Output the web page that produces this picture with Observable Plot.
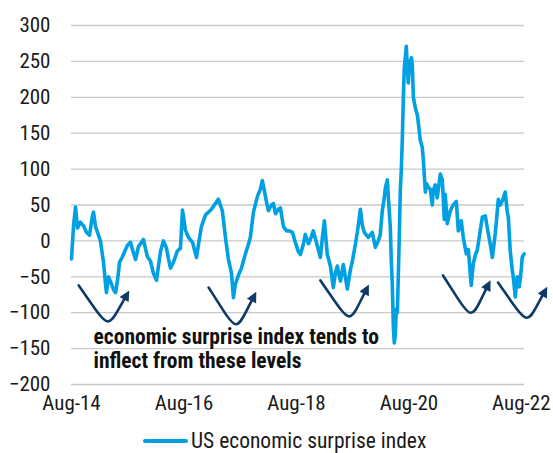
<!DOCTYPE html>
<html>
<head>
<meta charset="utf-8">
<script src="https://cdn.jsdelivr.net/npm/d3@7"></script>
<script src="https://cdn.jsdelivr.net/npm/@observablehq/plot@0.6"></script>
<style>
  html, body { margin: 0; padding: 0; background: #fff; }
  #wrap { position: relative; width: 553px; height: 453px; overflow: hidden;
          font-family: "Roboto Condensed", "Liberation Sans Narrow", "Arial Narrow", Roboto, sans-serif; color: #1a1a1a; }
  #legend { position: absolute; left: 143px; top: 429px; height: 23px; display: flex; align-items: center; font-size: 21.5px; line-height: 23px; white-space: nowrap; }
  #legend .sw { width: 45px; height: 4px; border-radius: 2px; background: #00a0e3; margin-right: 3px; }
</style>
</head>
<body>
<div id="wrap"><div id="chart"></div><div id="legend"><span class="sw"></span><span id="legendText"></span></div></div>
<script>
// ---- data ----
const seriesName = "US economic surprise index";
const dates = ["2014-08-01","2014-08-14","2014-08-27","2014-09-09","2014-09-28","2014-10-18","2014-11-06","2014-11-26","2014-12-15","2014-12-22",
"2015-01-04","2015-02-05","2015-02-25","2015-03-10","2015-03-16","2015-03-29","2015-04-18","2015-05-01","2015-05-14","2015-05-27","2015-06-09","2015-06-28","2015-07-18","2015-07-31","2015-08-19","2015-09-01","2015-09-21","2015-10-10","2015-10-30","2015-11-11","2015-11-24","2015-12-07","2015-12-27",
"2016-01-15","2016-02-04","2016-02-17","2016-03-01","2016-03-20","2016-04-09","2016-04-22","2016-05-05","2016-05-24","2016-06-19","2016-07-09","2016-07-22","2016-08-10","2016-08-30","2016-09-25","2016-10-21","2016-11-03","2016-11-22","2016-12-18",
"2017-01-07","2017-01-26","2017-02-21","2017-03-12","2017-03-25","2017-04-07","2017-04-27","2017-05-16","2017-06-05","2017-06-18","2017-07-01","2017-07-20","2017-08-09","2017-09-04","2017-09-23","2017-10-06","2017-10-26","2017-11-21","2017-12-10","2017-12-23",
"2018-01-05","2018-01-18","2018-01-31","2018-02-20","2018-03-05","2018-03-18","2018-04-06","2018-04-19","2018-05-09","2018-05-28","2018-06-16","2018-07-06","2018-07-25","2018-08-14","2018-08-27","2018-09-15","2018-09-28","2018-10-18","2018-10-31","2018-11-19","2018-12-15",
"2019-01-04","2019-01-17","2019-01-30","2019-02-12","2019-02-18","2019-03-10","2019-03-29","2019-04-11","2019-04-24","2019-05-14","2019-06-02","2019-06-15","2019-06-28","2019-07-18","2019-07-31","2019-08-19","2019-09-01","2019-09-21","2019-10-03","2019-10-16","2019-11-11","2019-12-07","2019-12-27",
"2020-01-15","2020-01-28","2020-02-10","2020-02-23","2020-03-01","2020-03-14","2020-03-20","2020-04-02","2020-04-09","2020-04-15","2020-04-22","2020-04-28","2020-05-05","2020-05-11","2020-05-18","2020-05-24","2020-05-31","2020-06-06","2020-06-13","2020-06-19","2020-06-26","2020-07-02","2020-07-15","2020-07-22","2020-07-28","2020-08-04","2020-08-17","2020-08-23","2020-08-30","2020-09-12","2020-09-25","2020-10-01","2020-10-14","2020-10-27","2020-11-03","2020-11-16","2020-11-22","2020-12-05","2020-12-18","2020-12-31",
"2021-01-06","2021-01-19","2021-02-01","2021-02-21","2021-03-06","2021-03-19","2021-03-25","2021-04-07","2021-04-27","2021-05-16","2021-06-05","2021-06-18","2021-07-07","2021-07-20","2021-08-09","2021-08-22","2021-09-10","2021-09-23","2021-10-06","2021-10-19","2021-11-08","2021-11-21","2021-12-10","2021-12-30",
"2022-01-12","2022-01-25","2022-02-13","2022-03-05","2022-03-18","2022-03-31","2022-04-19","2022-05-02","2022-05-09","2022-05-21","2022-06-03","2022-06-10","2022-06-23","2022-07-06","2022-07-19","2022-08-01","2022-08-07","2022-08-20"];
const values = [-25,20,47,18,26,21,12,8,35,40,
20,0,-30,-60,-72,-50,-60,-68,-72,-55,-30,-22,-12,-6,-2,-12,-26,-8,-2,2,-10,-22,-28,
-45,-55,-35,-15,0,-10,-25,-38,-30,-14,-10,43,15,5,-2,-23,-5,20,36,
40,44,52,58,50,42,5,-25,-45,-79,-60,-48,-38,-18,-5,5,40,62,72,84,
70,55,42,50,52,38,44,46,20,14,14,12,-2,-15,-19,-5,9,-4,2,14,-7,
-23,5,28,-5,-19,-35,-65,-45,-35,-56,-33,-50,-67,-40,-28,-5,12,44,22,12,5,12,-9,
0,9,42,60,74,85,62,20,-30,-60,-120,-142,-130,-95,-100,-50,10,70,100,140,200,240,271,240,220,245,255,245,200,185,175,165,140,130,112,68,80,75,72,50,
70,78,60,93,85,30,65,24,42,50,55,14,28,5,-18,-12,-62,-32,-20,-13,15,33,35,10,
-5,-23,10,58,50,56,68,40,33,-13,-40,-50,-78,-50,-64,-40,-23,-18];

const xDomain = ["2014-08-01", "2022-08-22"];
const xTickDates = ["2014-08-01","2016-08-01","2018-08-01","2020-08-01","2022-08-01"];
const xTickLabels = ["Aug-14","Aug-16","Aug-18","Aug-20","Aug-22"];
const yDomain = [-200, 300];
const yTicks = [-200,-150,-100,-50,0,50,100,150,200,250,300];

// "inflection" arrows: start, lowest point, end (date, value)
const arrowStartDates = ["2014-09-17","2017-01-08","2019-01-04","2021-03-10","2022-03-03"];
const arrowStartValues = [-62,-65,-55,-48,-58];
const arrowLowDates = ["2015-03-21","2017-07-01","2019-07-06","2021-09-04","2022-09-02"];
const arrowLowValues = [-112,-116,-105,-100,-107];
const arrowEndDates = ["2015-07-29","2017-11-01","2019-11-03","2022-01-01","2023-01-04"];
const arrowEndValues = [-74,-76,-66,-60,-69];

const noteLines = ["economic surprise index tends to", "inflect from these levels"];
const noteDate = "2014-12-22";
const noteValues = [-143, -177];

// ---- build ----
const parse = d3.utcParse("%Y-%m-%d");
const n = Math.min(dates.length, values.length);
const series = d3.range(n).map(i => ({date: parse(dates[i]), value: values[i]}));

function arrowPoints(i) {
  const p0 = [+parse(arrowStartDates[i]), arrowStartValues[i]];
  const B  = [+parse(arrowLowDates[i]), arrowLowValues[i]];
  const p2 = [+parse(arrowEndDates[i]), arrowEndValues[i]];
  const k = 1 / 12;
  const c = [0, 1].map(j => (B[j] - k * (p0[j] + p2[j])) / (1 - 2 * k));
  const lerp = (a, b, t) => [a[0] + (b[0] - a[0]) * t, a[1] + (b[1] - a[1]) * t];
  return [p0, lerp(c, p0, 0.5), c, lerp(c, p2, 0.5), p2].map(p => ({id: i, date: new Date(p[0]), value: p[1]}));
}
const arrows = arrowStartDates.flatMap((_, i) => arrowPoints(i));
const notes = noteLines.map((t, i) => ({text: t, date: parse(noteDate), value: noteValues[i]}));
const tickDates = xTickDates.map(parse);

const BLUE = "#00a0e3", NAVY = "#0e3a66", GRID = "#c9c9c9";
const FONT = '"Roboto Condensed", "Liberation Sans Narrow", "Arial Narrow", Roboto, sans-serif';

const chart = Plot.plot({
  width: 553,
  height: 425,
  marginLeft: 71,
  marginRight: 29,
  marginTop: 25,
  marginBottom: 41,
  style: {fontFamily: FONT, fontSize: "21px", color: "#1a1a1a", background: "#fff", overflow: "visible"},
  x: {type: "utc", domain: xDomain.map(parse), ticks: tickDates, tickSize: 0, tickPadding: 11,
      tickFormat: d => xTickLabels[tickDates.findIndex(t => +t === +d)], label: null},
  y: {domain: yDomain, ticks: yTicks, tickSize: 0, tickPadding: 21, label: null},
  marks: [
    Plot.ruleY(yTicks, {stroke: GRID, strokeWidth: 1.3}),
    Plot.line(series, {x: "date", y: "value", stroke: BLUE, strokeWidth: 3.6, strokeLinejoin: "round", strokeLinecap: "round"}),
    Plot.line(arrows, {x: "date", y: "value", z: "id", curve: "basis", stroke: NAVY, strokeWidth: 2.6, markerEnd: "arrow"}),
    Plot.text(notes, {x: "date", y: "value", text: "text", textAnchor: "start", lineAnchor: "bottom", fontWeight: "bold", fontSize: 21.5, fill: "#111"})
  ]
});
// filled arrowheads
d3.select(chart).selectAll("marker path").attr("d", "M-3.6,-3L2.4,0L-3.6,3Z").attr("fill", NAVY).attr("stroke", "none");
document.getElementById("chart").appendChild(chart);
document.getElementById("legendText").textContent = seriesName;
</script>
</body>
</html>
